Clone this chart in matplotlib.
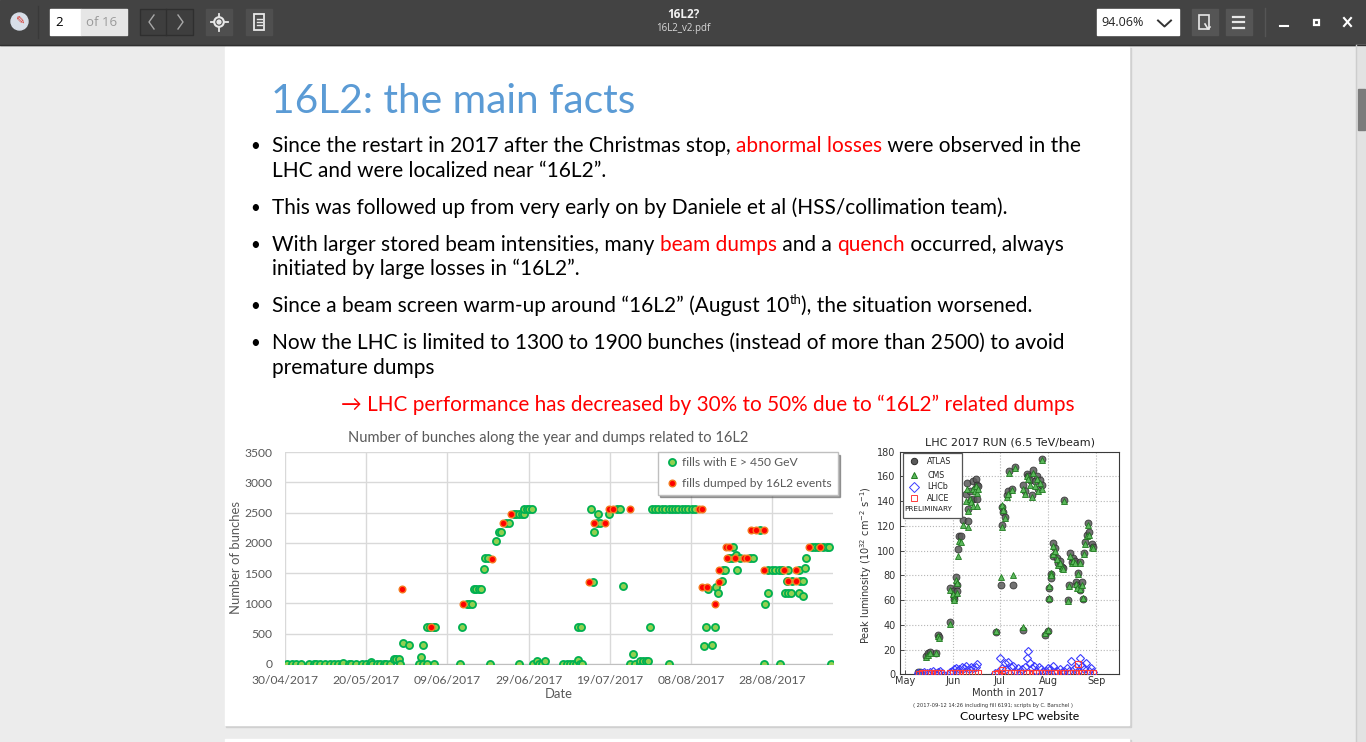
import numpy as np
import pandas as pd
import matplotlib
matplotlib.use("Agg")
import matplotlib.pyplot as plt
from matplotlib.patches import Rectangle, Circle

W, H = 1366, 742
SLIDE_FONT = ["Lato", "DejaVu Sans"]
UI_FONT = ["Open Sans", "DejaVu Sans"]
BLACK = "#000000"
RED = "#ff0000"
GREY_TXT = "#595959"

plt.rcParams["font.family"] = SLIDE_FONT

# ---- slide text
TITLE = "16L2: the main facts"
BODY = [
    (152, True, [("Since the restart in 2017 after the Christmas stop, ", BLACK),
                 ("abnormal losses", RED), (" were observed in the", BLACK)]),
    (177, False, [("LHC and were localized near \u201c16L2\u201d.", BLACK)]),
    (214, True, [("This was followed up from very early on by Daniele et al (HSS/collimation team).", BLACK)]),
    (251, True, [("With larger stored beam intensities, many ", BLACK), ("beam dumps", RED),
                 (" and a ", BLACK), ("quench", RED), (" occurred, always", BLACK)]),
    (275, False, [("initiated by large losses in \u201c16L2\u201d.", BLACK)]),
    (312, True, [("Since a beam screen warm-up around \u201c16L2\u201d (August 10", BLACK),
                 ("th", BLACK, "sup"), ("), the situation worsened.", BLACK)]),
    (349, True, [("Now the LHC is limited to 1300 to 1900 bunches (instead of more than 2500) to avoid", BLACK)]),
    (374, False, [("premature dumps", BLACK)]),
]
CONCLUSION = "\u2192 LHC performance has decreased by 30% to 50% due to \u201c16L2\u201d related dumps"

# ---- left chart: fills in 2017 (days after 30/04/2017, number of bunches)
FILL_START = "2017-04-30"
fill_day = [
    0.5, 1.7, 2.7, 4.0, 5.8, 7.1, 7.7, 8.5, 9.8, 11.0,
    12.0, 13.0, 14.0, 14.4, 15.7, 16.3, 17.6, 19.0, 20.0, 21.0,
    21.2, 21.4, 22.7, 23.5, 24.3, 25.0, 25.8, 26.8, 27.4, 28.2,
    28.4, 29.0, 30.6, 32.9, 33.6, 34.0, 34.0, 35.0, 35.0, 35.6,
    36.6, 36.6, 37.0, 43.2, 43.6, 44.8, 45.4, 46.0, 46.5, 47.1,
    47.7, 48.3, 49.1, 49.3, 50.1, 50.4, 51.9, 52.6, 53.2, 54.5,
    55.1, 56.3, 57.0, 57.6, 57.6, 58.3, 58.9, 58.9, 59.6, 60.2,
    60.8, 61.1, 62.2, 62.5, 63.4, 64.1, 68.6, 69.4, 70.2, 71.0,
    71.8, 72.1, 72.3, 72.6, 73.0, 73.1, 75.3, 75.8, 76.0, 76.8,
    77.2, 77.5, 79.7, 81.7, 82.6, 83.2, 85.0, 85.7, 86.3, 87.5,
    87.5, 88.2, 88.2, 88.9, 89.5, 90.0, 90.4, 91.2, 92.0, 92.8,
    93.7, 94.5, 94.7, 95.3, 96.1, 96.9, 97.8, 98.6, 99.4, 100.2,
    101.0, 103.1, 103.8, 104.3, 105.2, 106.0, 106.2, 106.6, 107.6, 107.9,
    108.4, 109.5, 110.1, 110.3, 111.1, 111.3, 112.0, 114.6, 115.4, 116.9,
    117.9, 118.3, 119.1, 119.1, 119.9, 120.8, 121.6, 122.0, 122.4, 123.2,
    123.6, 123.9, 124.0, 124.6, 124.9, 126.7, 126.7, 126.9, 127.5, 127.7,
    128.0, 128.4, 129.8, 130.6, 131.4, 132.6, 133.5, 134.1, 134.5,
]
fill_bunches = [
    0, 0, 0, 0, 0, 0, 0, 0, 0, 0,
    0, 0, 0, 20, 0, 0, 0, 0, 0, 0,
    40, 0, 0, 0, 0, 0, 0, 80, 80, 80,
    0, 340, 320, 0, 110, 320, 0, 605, 0, 605,
    605, 0, 605, 0, 605, 990, 990, 990, 1240, 1240,
    1240, 1240, 1565, 1750, 1750, 0, 2030, 2180, 2180, 2320,
    2320, 2470, 2470, 2470, 0, 2470, 2470, 2565, 2565, 2565,
    2565, 0, 55, 0, 0, 55, 0, 0, 0, 0,
    0, 65, 605, 0, 605, 0, 2565, 1360, 2180, 2320,
    2470, 2320, 2470, 2565, 2565, 1290, 0, 165, 0, 0,
    55, 0, 55, 55, 55, 605, 2565, 2565, 2565, 2565,
    2565, 2565, 0, 2565, 2565, 2565, 2565, 2565, 2565, 2565,
    2565, 300, 605, 1240, 320, 605, 1270, 1170, 1370, 1550,
    1550, 1750, 1750, 1930, 1800, 1550, 1750, 1750, 1750, 2220,
    0, 990, 1170, 1550, 1550, 1550, 1550, 0, 1550, 1170,
    1370, 1170, 1550, 1170, 1370, 1550, 1170, 1370, 1130, 1370,
    1590, 1750, 1930, 1930, 1930, 1930, 1930, 1930, 0,
]
dump_day = [
    28.8, 36.0, 43.8, 50.9, 53.8, 55.7, 75.0, 76.0, 78.9, 79.9,
    80.9, 84.9, 101.9, 102.7, 102.7, 103.9, 106.0, 106.8, 107.0, 108.7,
    108.8, 109.5, 110.9, 113.0, 113.9, 114.8, 116.1, 118.0, 118.0, 123.0,
    124.0, 125.9, 125.9, 129.0, 131.8,
]
dump_bunches = [
    1240, 605, 990, 1740, 2320, 2470, 1360, 2320, 2320, 2565,
    2565, 2565, 2565, 2565, 1270, 1270, 990, 1360, 1550, 1930,
    1750, 1930, 1750, 1750, 1750, 2210, 2220, 2220, 1550, 1550,
    1370, 1370, 1550, 1930, 1930,
]
BUNCH_TICKS = [0, 500, 1000, 1500, 2000, 2500, 3000, 3500]
DATE_TICK_DAYS = [0, 20, 40, 60, 80, 100, 120]

# ---- right chart: LPC peak luminosity (days after 01/05/2017, 1e32 cm-2 s-1)
LUMI_START = "2017-05-01"
lumi_day = [
    8.5, 9.5, 13.5, 14.5, 16.0, 19.8, 21.3, 22.2, 28.9, 29.0,
    30.6, 31.4, 31.8, 33.0, 33.2, 33.4, 34.3, 34.9, 35.8, 37.5,
    39.2, 40.0, 40.3, 40.8, 41.8, 42.5, 43.5, 43.9, 44.8, 45.6,
    46.1, 46.5, 47.0,
    58.6, 61.8, 62.2, 62.2, 63.3, 64.3, 65.4, 66.5, 66.9, 68.6,
    69.3, 70.8, 76.1, 76.1, 77.2, 78.3, 79.4, 80.4, 81.5, 82.6,
    83.6, 84.7, 85.8, 86.9, 87.9, 88.4, 90.1, 92.2,
    92.9, 92.9, 93.7, 93.7, 95.4, 95.4, 96.5, 97.6, 98.6, 99.7,
    100.8, 101.9, 102.3, 105.1, 105.7, 106.1, 107.2, 108.3, 109.4, 110.0,
    110.9, 111.5, 112.6, 112.6, 113.6, 114.3, 115.4, 115.8, 116.9, 117.9,
    118.6, 120.1, 121.1,
]
atlas_lumi = [
    2, 2, 15, 17, 18, 17, 32, 30, 42, 70,
    67, 63, 61, 79, 72, 67, 101, 112, 112, 125,
    146, 155, 124, 134, 148, 141, 142, 156, 150, 158,
    153, 142, 152,
    34, 72, 121, 135, 131, 127, 145, 148, 164, 150,
    72, 168, 36, 153, 148, 162, 160, 157, 145, 165,
    156, 160, 150, 157, 153, 174, 32, 35,
    61, 70, 81, 78, 106, 96, 102, 94, 90, 92,
    87, 86, 141, 60, 72, 98, 91, 94, 92, 75,
    72, 82, 91, 68, 75, 61, 98, 107, 113, 122,
    115, 105, 103,
]
cms_lumi = [
    2, 2, 14, 16, 17, 17, 31, 29, 41, 68,
    65, 62, 60, 76, 74, 66, 96, 108, 107, 121,
    140, 150, 119, 132, 142, 139, 136, 150, 148, 152,
    147, 136, 150,
    35, 79, 119, 137, 133, 126, 143, 146, 163, 149,
    80, 167, 38, 150, 146, 160, 158, 153, 143, 163,
    152, 158, 148, 155, 150, 173, 33, 36,
    62, 71, 82, 80, 104, 97, 100, 93, 88, 90,
    86, 85, 140, 59, 71, 96, 90, 92, 90, 73,
    70, 81, 90, 69, 72, 62, 97, 105, 112, 121,
    113, 103, 102,
]
lhcb_day = [
    8.5, 10, 12, 14, 16, 18, 19.5, 21, 22.5, 24,
    29, 30, 31.5, 33, 34, 35, 36.5, 38, 39.5, 41,
    42.5, 44, 45.5, 46.5, 58, 59.5, 61.2, 62.5, 64, 65,
    66.5, 68, 69.5, 71, 72.5, 74, 75.5, 77, 78.5, 79.3,
    80.2, 81.5, 83, 84.5, 86, 87.5, 89, 90.5, 92, 93.5,
    95, 96.5, 98, 99.5, 101, 102.5, 104, 105.5, 107, 108.5,
    110, 111, 112.3, 113.5, 115, 116.5, 118, 119.5, 121,
]
lhcb_lumi = [
    1, 1, 2, 1, 2, 3, 1, 2, 3, 1,
    2, 3, 4, 5, 3, 4, 6, 5, 7, 4,
    6, 5, 6, 8, 1, 2, 13, 5, 9, 4,
    10, 6, 7, 3, 5, 2, 4, 6, 13, 19,
    9, 5, 7, 3, 6, 4, 2, 3, 5, 4,
    7, 2, 3, 4, 2, 3, 5, 3, 11, 4,
    6, 3, 13, 7, 4, 9, 3, 5, 2,
]
alice_day = [
    9, 11, 13, 15, 17, 19, 21, 23, 29, 31,
    33, 35, 37, 39, 41, 43, 45, 47, 58, 60,
    62.5, 64, 66, 68, 70, 72, 74, 76, 78, 80,
    82, 84, 86, 88, 90, 92, 94, 96, 98, 100,
    102, 104, 106, 108, 110, 111.5, 113, 115, 117, 119, 121,
]
alice_lumi = [
    0.6, 0.8, 0.7, 1.0, 0.8, 1.0, 0.9, 0.7, 0.8, 1.0,
    0.9, 1.1, 0.8, 1.0, 0.9, 1.1, 1.0, 0.9, 0.6, 0.8,
    3.4, 0.9, 1.0, 0.8, 1.1, 0.9, 1.0, 0.8, 1.1, 0.9,
    1.0, 0.8, 1.1, 0.9, 1.0, 0.9, 0.8, 1.0, 0.9, 1.1,
    0.9, 1.0, 0.8, 1.0, 0.9, 8.4, 1.0, 0.9, 1.1, 0.8, 0.9,
]
LUMI_TICKS = [0, 20, 40, 60, 80, 100, 120, 140, 160, 180]
MONTHS = ["May", "Jun", "Jul", "Aug", "Sep"]
MONTH_STARTS = ["2017-05-01", "2017-06-01", "2017-07-01", "2017-08-01", "2017-09-01"]


def px_rect(left, top, right, bottom):
    return [left / W, 1 - bottom / H, (right - left) / W, (bottom - top) / H]


def as_dates(start, days):
    return pd.Timestamp(start) + pd.to_timedelta(np.asarray(days, dtype=float), unit="D")


fig = plt.figure(figsize=(W / 100, H / 100), dpi=100)
bg = fig.add_axes([0, 0, 1, 1])
bg.set_xlim(0, W)
bg.set_ylim(H, 0)
bg.axis("off")
renderer = fig.canvas.get_renderer()


def text_width(s, size, **kw):
    t = bg.text(0, 0, "|" + s + "|", fontsize=size, **kw)
    w = t.get_window_extent(renderer).width
    t.set_text("||")
    w -= t.get_window_extent(renderer).width
    t.remove()
    return w


# ---- viewer window
bg.add_patch(Rectangle((0, 45), W, H - 45, color="#ececec"))
bg.add_patch(Rectangle((0, 0), W, 45, color="#434343"))
bg.plot([0, W], [44.5, 44.5], color="#303030", lw=1)
bg.add_patch(Rectangle((1356, 45), 10, H - 45, color="#e2e2e2"))
bg.plot([1356, 1356], [45, H], color="#cdcdcd", lw=1)
bg.add_patch(Rectangle((1358, 89), 7, 41, color="#7b7b7b"))
bg.add_patch(Rectangle((226, 48), 904.5, 678.5, color="#d0d0d0"))
bg.add_patch(Rectangle((225, 47), 904, 678, color="white"))
bg.add_patch(Rectangle((226, 740), 904.5, 10, color="#d0d0d0"))
bg.add_patch(Rectangle((225, 739), 904, 10, color="white"))

# toolbar, left side
bg.add_patch(Circle((19.5, 21.5), 8.5, color="#d7dee8"))
bg.text(19.5, 22, "\u270e", color="#d9342b", fontsize=8, ha="center", va="center", family="DejaVu Sans")
bg.plot([37.5, 37.5], [6, 38], color="#393939", lw=1)
bg.add_patch(Rectangle((49.5, 9), 31, 26, color="white"))
bg.add_patch(Rectangle((80.5, 9), 46, 26, color="#e6e6e6"))
bg.text(55, 22, "2", fontsize=9.5, va="center", family=UI_FONT, color="black")
bg.text(86, 22, "of 16", fontsize=9.5, va="center", family=UI_FONT, color="#9a9a9a")
bg.add_patch(Rectangle((139.5, 9), 53, 26, facecolor="#3e3e3e", edgecolor="#2f2f2f", lw=1))
bg.plot([166, 166], [9, 35], color="#2f2f2f", lw=1)
bg.plot([154, 149, 154], [15, 22, 29], color="#a8a8a8", lw=1)
bg.plot([178, 183, 178], [15, 22, 29], color="#a8a8a8", lw=1)
bg.add_patch(Rectangle((206, 9), 26, 26, color="#4f4f4f"))
bg.add_patch(Circle((219, 22), 4.8, fill=False, ec="#e8e8e8", lw=1.5))
bg.add_patch(Circle((219, 22), 1.9, color="#e8e8e8"))
bg.plot([219, 219], [13.5, 16.5], color="#e8e8e8", lw=1.3)
bg.plot([219, 219], [27.5, 30.5], color="#e8e8e8", lw=1.3)
bg.plot([210.5, 213.5], [22, 22], color="#e8e8e8", lw=1.3)
bg.plot([224.5, 227.5], [22, 22], color="#e8e8e8", lw=1.3)
bg.add_patch(Rectangle((246, 9), 26, 26, color="#4f4f4f"))
bg.add_patch(Rectangle((254, 14), 10, 16, fill=False, ec="#e8e8e8", lw=1.3))
for yy in (19, 22, 25):
    bg.plot([256.5, 261.5], [yy, yy], color="#e8e8e8", lw=1)

# toolbar, centre and right side
bg.text(683, 14, "16L2?", fontsize=8.5, fontweight="bold", color="#f2f2f2",
        ha="center", va="center", family=UI_FONT)
bg.text(683, 28, "16L2_v2.pdf", fontsize=7, color="#d8d8d8", ha="center", va="center", family=UI_FONT)
bg.add_patch(Rectangle((1097, 9), 82, 26, color="white"))
bg.text(1101, 22, "94.06%", fontsize=9, va="center", family=UI_FONT, color="#222222")
bg.plot([1158, 1164.5, 1171], [20.5, 26.5, 20.5], color="#333333", lw=1.4)
bg.add_patch(Rectangle((1191.5, 9), 26.5, 26, color="#555555"))
bg.add_patch(Rectangle((1199, 15), 10, 14, fill=False, ec="#e8e8e8", lw=1.2))
bg.plot([1205, 1208, 1210], [24, 29, 27], color="#e8e8e8", lw=1.2)
bg.add_patch(Rectangle((1225.5, 9), 26.5, 26, color="#555555"))
for yy in (16.5, 22, 27.5):
    bg.plot([1233, 1244], [yy, yy], color="#e8e8e8", lw=1.6)
bg.plot([1264.5, 1264.5], [8, 36], color="#555555", lw=1)
bg.plot([1280, 1288], [26, 26], color="white", lw=1.5)
bg.add_patch(Rectangle((1313.5, 19.5), 5, 5, fill=False, ec="white", lw=1.6))
bg.plot([1344, 1351], [18, 26], color="white", lw=1.5)
bg.plot([1344, 1351], [26, 18], color="white", lw=1.5)

# ---- slide text
title_size = 30 * 365 / text_width(TITLE, 30, family=SLIDE_FONT)
bg.text(271, 113, TITLE, fontsize=title_size, color="#5b9bd5", family=SLIDE_FONT, va="baseline")

first_line = "".join(p[0] for p in BODY[0][2])
body_size = 14 * 809 / text_width(first_line, 14, family=SLIDE_FONT)

for y, bullet, parts in BODY:
    if bullet:
        bg.text(255, y - 1, "\u2022", fontsize=body_size * 0.8, color=BLACK, family=SLIDE_FONT,
                ha="center", va="baseline")
    x = 272
    for part in parts:
        s, color = part[0], part[1]
        size, yy = body_size, y
        if len(part) > 2:
            size, yy = body_size * 0.62, y - body_size * 0.5
        bg.text(x, yy, s, fontsize=size, color=color, family=SLIDE_FONT, va="baseline")
        x += text_width(s, size, family=SLIDE_FONT)

bg.text(341, 411, CONCLUSION, fontsize=body_size * 0.995, color=RED, family=SLIDE_FONT, va="baseline")

# ---- left chart (Excel style)
ax1 = fig.add_axes(px_rect(285, 452, 833, 664))
fill_start = pd.Timestamp(FILL_START)
ax1.plot(as_dates(FILL_START, fill_day), fill_bunches, ls="none", marker="o", ms=5.1,
         mfc="#92d050", mec="#00b050", mew=1.3, label="fills with E > 450 GeV", zorder=3)
ax1.plot(as_dates(FILL_START, dump_day), dump_bunches, ls="none", marker="o", ms=4.8,
         mfc="#ff0000", mec="#f47b20", mew=1.0, label="fills dumped by 16L2 events", zorder=4)
ax1.set_xlim(fill_start, fill_start + pd.Timedelta(days=135))
ax1.set_ylim(0, 3500)
tick_dates = as_dates(FILL_START, DATE_TICK_DAYS)
ax1.set_xticks(tick_dates, [d.strftime("%d/%m/%Y") for d in tick_dates], fontsize=8.7)
ax1.set_yticks(BUNCH_TICKS, [str(v) for v in BUNCH_TICKS], fontsize=8.7)
ax1.grid(True, color="#d9d9d9", lw=1)
ax1.set_axisbelow(True)
for side in ("left", "right", "top"):
    ax1.spines[side].set_visible(False)
ax1.spines["bottom"].set_color("#bfbfbf")
ax1.tick_params(axis="both", length=0, labelcolor=GREY_TXT)
ax1.tick_params(axis="y", pad=9)
ax1.tick_params(axis="x", pad=8)
ax1.legend(loc="upper left", bbox_to_anchor=((657.7 - 285) / 548, 1.0), borderaxespad=0,
           fontsize=8.7, handlelength=1.4, handletextpad=0.2, borderpad=0.45,
           labelspacing=0.8, fancybox=False, shadow=True, framealpha=1,
           edgecolor="#bfbfbf", labelcolor=GREY_TXT)

bg.text(548.5, 438, "Number of bunches along the year and dumps related to 16L2", fontsize=10.5,
        color=GREY_TXT, ha="center", va="center", family=SLIDE_FONT)
bg.text(236, 557, "Number of bunches", fontsize=9.4, color=GREY_TXT, rotation=90,
        ha="center", va="center", family=SLIDE_FONT)
bg.text(559, 694, "Date", fontsize=9.4, color=GREY_TXT, ha="center", va="center", family=SLIDE_FONT)

# ---- right chart (LPC luminosity plot)
ax2 = fig.add_axes(px_rect(899.5, 451.7, 1119, 674.3))
ax2.plot(as_dates(LUMI_START, lumi_day), atlas_lumi, ls="none", marker="o", ms=5.0,
         mfc="#5a5a5a", mec="#2a2a2a", mew=0.6, alpha=0.85, zorder=3)
ax2.plot(as_dates(LUMI_START, lumi_day), cms_lumi, ls="none", marker="^", ms=5.0,
         mfc="#5cb85c", mec="#1f7a1f", mew=0.6, zorder=4)
ax2.plot(as_dates(LUMI_START, lhcb_day), lhcb_lumi, ls="none", marker="D", ms=4.4,
         mfc="none", mec="#3b3bff", mew=0.8, zorder=5)
ax2.plot(as_dates(LUMI_START, alice_day), alice_lumi, ls="none", marker="s", ms=3.8,
         mfc="none", mec="#ff3b3b", mew=0.8, zorder=6)
ax2.set_xlim(pd.Timestamp("2017-04-27 12:00"), pd.Timestamp("2017-09-15 14:00"))
ax2.set_ylim(0, 180)
ax2.set_xticks(pd.to_datetime(MONTH_STARTS), MONTHS, fontsize=7, fontfamily="DejaVu Sans")
ax2.set_yticks(LUMI_TICKS, [str(v) for v in LUMI_TICKS], fontsize=7, fontfamily="DejaVu Sans")
ax2.grid(True, ls=":", color="#b5b5b5", lw=0.8)
ax2.tick_params(direction="in", length=3, width=0.6, labelcolor="#333333", color="#333333")
ax2.tick_params(axis="y", pad=3)
ax2.tick_params(axis="x", pad=1.5)
for sp in ax2.spines.values():
    sp.set_color("#3a3a3a")
    sp.set_linewidth(0.8)

bg.text(1010, 442.5, "LHC 2017 RUN (6.5 TeV/beam)", fontsize=8, color="#222222",
        ha="center", va="center", family="DejaVu Sans")
bg.text(866, 565, r"Peak luminosity ($10^{32}$ cm$^{-2}$ s$^{-1}$)", fontsize=7, color="#333333",
        rotation=90, ha="center", va="center", family="DejaVu Sans")
bg.text(1008, 693, "Month in 2017", fontsize=7.2, color="#333333", ha="center", va="center",
        family="DejaVu Sans")
bg.text(993, 706, "( 2017-09-12 14:26 including fill 6191; scripts by C. Barschel )", fontsize=3.7,
        color="#333333", ha="center", va="center", family="DejaVu Sans")
bg.text(1019.5, 717, "Courtesy LPC website", fontsize=8.8, color=BLACK, ha="center", va="center",
        family=SLIDE_FONT)

# legend of the luminosity plot, drawn on a top overlay
ov = fig.add_axes([0, 0, 1, 1], zorder=5)
ov.set_xlim(0, W)
ov.set_ylim(H, 0)
ov.axis("off")
ov.add_patch(Rectangle((902.7, 453.3), 59, 64.4, facecolor="white", edgecolor="#555555", lw=0.9))
legend_rows = [("ATLAS", "o", "#5a5a5a", "#2a2a2a", 461),
               ("CMS", "^", "#5cb85c", "#1f7a1f", 475),
               ("LHCb", "D", "none", "#3b3bff", 486.7),
               ("ALICE", "s", "none", "#ff3b3b", 498.3)]
for name, mk, fc, ec, yy in legend_rows:
    ov.plot([914], [yy], ls="none", marker=mk, ms=4.6, mfc=fc, mec=ec, mew=0.7)
    ov.text(927, yy, name, fontsize=5.7, color="#222222", va="center", family="DejaVu Sans")
ov.text(904.5, 509.3, "PRELIMINARY", fontsize=5.2, color="#222222", va="center", family="DejaVu Sans")

fig.savefig("out.png", dpi=100)
